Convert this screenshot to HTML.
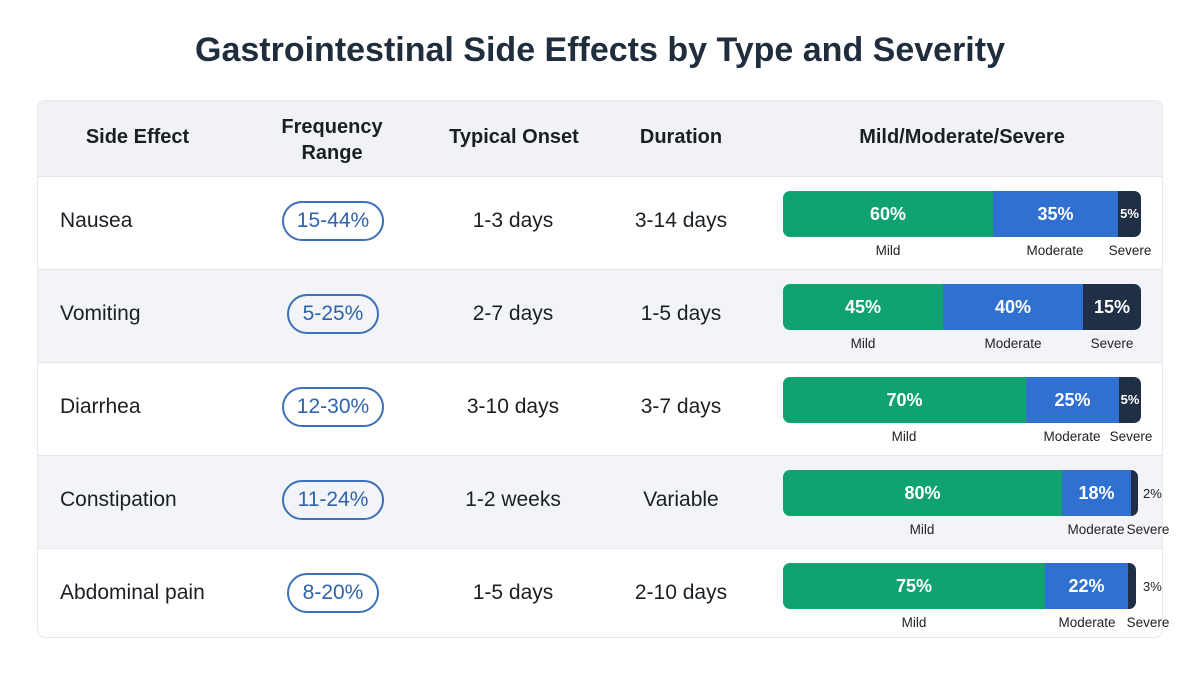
<!DOCTYPE html><html><head><meta charset="utf-8"><style>
body{margin:0;width:1200px;height:675px;background:#fff;font-family:"Liberation Sans",sans-serif;position:relative;overflow:hidden;color:#1b1f24}
.a{position:absolute}
.t{left:0;width:1200px;top:31px;text-align:center;font-size:34px;font-weight:bold;color:#1f2d3d}
.tbl{left:37px;top:100px;width:1126px;height:538px;border:1px solid #e6e9ee;border-radius:8px;overflow:hidden;box-sizing:border-box}
.h{font-weight:bold;font-size:20px;text-align:center;color:#1b1f24}
.c{font-size:21px;text-align:center;transform:translateX(-50%)}
.pill{border:2px solid #3d70b8;border-radius:20px;color:#2f63ad;font-size:21px;height:36px;line-height:36px;text-align:center;box-sizing:content-box}
.seg{height:46px;line-height:46px;color:#fff;font-size:18px;text-align:center;font-weight:bold}
.lb{font-size:13.5px;transform:translateX(-50%);white-space:nowrap;color:#222}
</style></head><body>
<div class="a t">Gastrointestinal Side Effects by Type and Severity</div>
<div class="a tbl">
<div class="a" style="left:0;top:0;width:1126px;height:75px;background:#f0f2f6"></div>
<div class="a" style="left:0;top:168px;width:1126px;height:93px;background:#f2f4f8"></div>
<div class="a" style="left:0;top:354px;width:1126px;height:93px;background:#f2f4f8"></div>
<div class="a" style="left:0;top:75px;width:1126px;height:1px;background:#e3e6eb"></div>
<div class="a" style="left:0;top:168px;width:1126px;height:1px;background:#e3e6eb"></div>
<div class="a" style="left:0;top:261px;width:1126px;height:1px;background:#e3e6eb"></div>
<div class="a" style="left:0;top:354px;width:1126px;height:1px;background:#e3e6eb"></div>
<div class="a" style="left:0;top:447px;width:1126px;height:1px;background:#e3e6eb"></div>
</div>
<div class="a h" style="left:40px;width:195px;top:126px">Side Effect</div>
<div class="a h" style="left:252px;width:160px;top:114px;line-height:26px">Frequency<br>Range</div>
<div class="a h" style="left:414px;width:200px;top:126px">Typical Onset</div>
<div class="a h" style="left:600px;width:162px;top:126px">Duration</div>
<div class="a h" style="left:782px;width:360px;top:126px">Mild/Moderate/Severe</div>

<div class="a" style="left:60px;top:209px;font-size:21px">Nausea</div>
<div class="a" style="left:60px;top:302px;font-size:21px">Vomiting</div>
<div class="a" style="left:60px;top:395px;font-size:21px">Diarrhea</div>
<div class="a" style="left:60px;top:488px;font-size:21px">Constipation</div>
<div class="a" style="left:60px;top:581px;font-size:21px">Abdominal pain</div>

<div class="a pill" style="left:282px;top:201px;width:98px">15-44%</div>
<div class="a pill" style="left:287px;top:294px;width:88px">5-25%</div>
<div class="a pill" style="left:282px;top:387px;width:98px">12-30%</div>
<div class="a pill" style="left:282px;top:480px;width:98px">11-24%</div>
<div class="a pill" style="left:287px;top:573px;width:88px">8-20%</div>

<div class="a c" style="left:513px;top:209px">1-3 days</div>
<div class="a c" style="left:513px;top:302px">2-7 days</div>
<div class="a c" style="left:513px;top:395px">3-10 days</div>
<div class="a c" style="left:513px;top:488px">1-2 weeks</div>
<div class="a c" style="left:513px;top:581px">1-5 days</div>
<div class="a c" style="left:681px;top:209px">3-14 days</div>
<div class="a c" style="left:681px;top:302px">1-5 days</div>
<div class="a c" style="left:681px;top:395px">3-7 days</div>
<div class="a c" style="left:681px;top:488px">Variable</div>
<div class="a c" style="left:681px;top:581px">2-10 days</div>

<div class="a" style="left:783px;top:191px;width:358px;height:46px;border-radius:7px;overflow:hidden;display:flex">
<div class="seg" style="width:210px;background:#11a36f">60%</div><div class="seg" style="width:125px;background:#2f70d1">35%</div><div class="seg" style="width:23px;background:#1f2f45;font-size:13px">5%</div></div>
<div class="a lb" style="left:888px;top:243px">Mild</div><div class="a lb" style="left:1055px;top:243px">Moderate</div><div class="a lb" style="left:1130px;top:243px">Severe</div>

<div class="a" style="left:783px;top:284px;width:358px;height:46px;border-radius:7px;overflow:hidden;display:flex">
<div class="seg" style="width:160px;background:#11a36f">45%</div><div class="seg" style="width:140px;background:#2f70d1">40%</div><div class="seg" style="width:58px;background:#1f2f45">15%</div></div>
<div class="a lb" style="left:863px;top:336px">Mild</div><div class="a lb" style="left:1013px;top:336px">Moderate</div><div class="a lb" style="left:1112px;top:336px">Severe</div>

<div class="a" style="left:783px;top:377px;width:358px;height:46px;border-radius:7px;overflow:hidden;display:flex">
<div class="seg" style="width:243px;background:#11a36f">70%</div><div class="seg" style="width:93px;background:#2f70d1">25%</div><div class="seg" style="width:22px;background:#1f2f45;font-size:13px">5%</div></div>
<div class="a lb" style="left:904px;top:429px">Mild</div><div class="a lb" style="left:1072px;top:429px">Moderate</div><div class="a lb" style="left:1131px;top:429px">Severe</div>

<div class="a" style="left:783px;top:470px;width:355px;height:46px;border-radius:7px;overflow:hidden;display:flex">
<div class="seg" style="width:279px;background:#11a36f">80%</div><div class="seg" style="width:69px;background:#2f70d1">18%</div><div class="seg" style="width:7px;background:#1f2f45"></div></div>
<div class="a" style="left:1143px;top:486px;font-size:13px">2%</div>
<div class="a lb" style="left:922px;top:522px">Mild</div><div class="a lb" style="left:1096px;top:522px">Moderate</div><div class="a lb" style="left:1148px;top:522px">Severe</div>

<div class="a" style="left:783px;top:563px;width:353px;height:46px;border-radius:7px;overflow:hidden;display:flex">
<div class="seg" style="width:262px;background:#11a36f">75%</div><div class="seg" style="width:83px;background:#2f70d1">22%</div><div class="seg" style="width:8px;background:#1f2f45"></div></div>
<div class="a" style="left:1143px;top:579px;font-size:13px">3%</div>
<div class="a lb" style="left:914px;top:615px">Mild</div><div class="a lb" style="left:1087px;top:615px">Moderate</div><div class="a lb" style="left:1148px;top:615px">Severe</div>
</body></html>
